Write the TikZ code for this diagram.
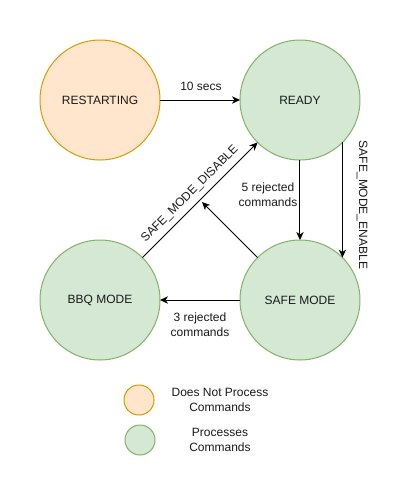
\documentclass[tikz,border=0pt]{standalone}
\usepackage{fontspec}
\setmainfont{Liberation Sans}
\usetikzlibrary{arrows.meta}
\definecolor{orfill}{HTML}{FFE6CC}
\definecolor{ordraw}{HTML}{D79B00}
\definecolor{grfill}{HTML}{D5E8D4}
\definecolor{grdraw}{HTML}{82B366}
\definecolor{txt}{HTML}{1A1A1A}
\begin{document}
\begin{tikzpicture}[x=0.75pt,y=-0.75pt,
  every node/.style={font=\fontsize{9pt}{11pt}\selectfont, text=txt},
  state/.style={circle, draw, line width=0.75pt, minimum size=90pt, inner sep=0pt, outer sep=0pt},
  orstate/.style={state, draw=ordraw, fill=orfill},
  grstate/.style={state, draw=grdraw, fill=grfill},
  legor/.style={circle, draw=ordraw, fill=orfill, line width=0.75pt, minimum size=22.5pt, inner sep=0pt},
  leggr/.style={circle, draw=grdraw, fill=grfill, line width=0.75pt, minimum size=22.5pt, inner sep=0pt},
  conn/.style={line width=0.75pt, -{Stealth[length=6pt,width=5.5pt,inset=1.8pt]}},
  lbl/.style={align=center, inner sep=1pt}]
\useasboundingbox[fill=white] (0,0) rectangle (400,480);

\node[orstate] (restart) at (100,100) {RESTARTING};
\node[grstate] (ready) at (300,100) {READY};
\node[grstate] (bbq) at (100,300) {BBQ MODE};
\node[grstate] (safe) at (300,300) {SAFE MODE};

\coordinate (mid) at (202,202);

\draw[conn] (restart) -- (ready);
\node[lbl] (l10) at (201,86) {10 secs};

\draw[conn] (ready) -- (safe);
\node[lbl] (l5) at (268,195) {5 rejected\\commands};

\draw[conn] (ready.-45) -- (safe.45);
\node[lbl, rotate=-90] (lenable) at (362,205) {SAFE\_MODE\_ENABLE};

\draw[conn] (bbq.45) -- (ready.-135);
\node[lbl, rotate=45] (ldisable) at (190,194) {SAFE\_MODE\_DISABLE};

\draw[conn] (safe.135) -- (mid);

\draw[conn] (safe) -- (bbq);
\node[lbl] (l3) at (200,325) {3 rejected\\commands};

\node[legor] (lego) at (139,400) {};
\node[lbl] (legot) at (220,400) {Does Not Process\\Commands};
\node[leggr] (legg) at (140,440) {};
\node[lbl] (leggt) at (220,440) {Processes\\Commands};
\end{tikzpicture}
\end{document}
